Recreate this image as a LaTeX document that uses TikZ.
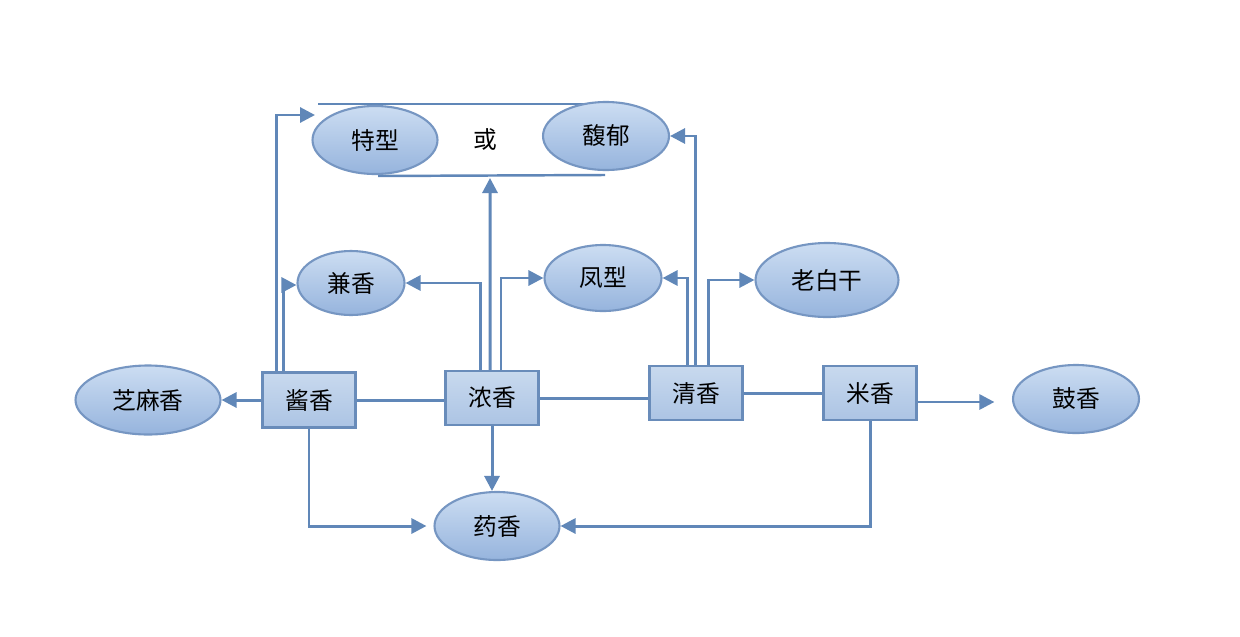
\documentclass[tikz,border=0pt]{standalone}
\usepackage{fontspec}
\setmainfont{Noto Sans CJK SC}
\usetikzlibrary{shapes.geometric,arrows.meta}
\definecolor{ln}{RGB}{96,135,184}
\definecolor{edgec}{RGB}{118,150,194}
\definecolor{ftop}{RGB}{204,221,242}
\definecolor{fbot}{RGB}{150,180,221}
\definecolor{btop}{RGB}{200,217,238}
\definecolor{bbot}{RGB}{172,196,228}
\definecolor{bedge}{RGB}{105,140,186}
\begin{document}
\begin{tikzpicture}[x=0.02cm,y=-0.02cm,
  lbl/.style={font=\fontsize{13.5}{16}\selectfont},
  ell/.style={ellipse, draw=edgec, line width=1.2pt, top color=ftop, bottom color=fbot, inner sep=0pt, lbl},
  box/.style={rectangle, draw=bedge, line width=1.4pt, top color=btop, bottom color=bbot, minimum width=1.86cm, minimum height=1.08cm, inner sep=0pt, lbl},
  con/.style={draw=ln, line width=1.7pt},
  arr/.style={con, -{Triangle[length=0.3cm,width=0.3cm]}}]
\fill[white] (0,0) rectangle (1240,636);
\useasboundingbox (0,0) rectangle (1240,636);

% frame around 特型 / 馥郁
\draw[con, line width=1.4pt] (318,104) -- (592,104);
\draw[con, line width=1.4pt] (378,176) -- (605,175);

% ellipses
\node[ell, minimum width=2.5cm, minimum height=1.36cm] (texing) at (375,140) {特型};
\node[ell, minimum width=2.52cm, minimum height=1.36cm] (fuyu) at (606,136) {馥郁};
\node[lbl] (huo) at (485,140) {或};
\node[ell, minimum width=2.14cm, minimum height=1.28cm] (jian) at (351,283) {兼香};
\node[ell, minimum width=2.34cm, minimum height=1.32cm] (feng) at (603,278) {凤型};
\node[ell, minimum width=2.86cm, minimum height=1.48cm] (lao) at (827,280) {老白干};
\node[ell, minimum width=2.9cm, minimum height=1.38cm] (zhima) at (148,400) {芝麻香};
\node[ell, minimum width=2.52cm, minimum height=1.36cm] (gu) at (1076,399) {鼓香};
\node[ell, minimum width=2.5cm, minimum height=1.36cm] (yao) at (497,526) {药香};

% boxes
\node[box, minimum height=1.1cm] (jiang) at (309,400) {酱香};
\node[box] (nong) at (492,398) {浓香};
\node[box] (qing) at (696,393) {清香};
\node[box] (mi) at (870,393) {米香};

% helper coordinates
\coordinate (tx) at (315,115);
\coordinate (fb) at (490,178);

% horizontal links between boxes
\draw[con] (jiang.east) -- (jiang.east -| nong.west);
\draw[con] (nong.east) -- (nong.east -| qing.west);
\draw[con] (qing.east) -- (mi.west);

% arrows
\draw[arr] (jiang.west) -- (zhima.east);
\draw[arr, shorten >=10pt] ([yshift=-0.18cm]mi.east) -- ([yshift=-0.18cm]mi.east -| gu.west);
\draw[arr] ([xshift=-0.66cm]jiang.north) |- (tx);
\draw[arr] ([xshift=-0.52cm]jiang.north) |- ([yshift=-0.04cm]jian.west);
\draw[arr] ([xshift=-0.24cm]nong.north) |- (jian.east);
\draw[arr] ([xshift=-0.04cm]nong.north) -- (fb);
\draw[arr] ([xshift=0.18cm]nong.north) |- (feng.west);
\draw[arr] ([xshift=-0.18cm]qing.north) |- (feng.east);
\draw[arr] ([xshift=-0.02cm]qing.north) |- (fuyu.east);
\draw[arr] ([xshift=0.24cm]qing.north) |- (lao.west);
\draw[arr] (nong.south) -- (nong.south |- yao.north);
\draw[arr, shorten >=4pt] (jiang.south) |- (yao.west);
\draw[arr] (mi.south) |- (yao.east);
\end{tikzpicture}
\end{document}
